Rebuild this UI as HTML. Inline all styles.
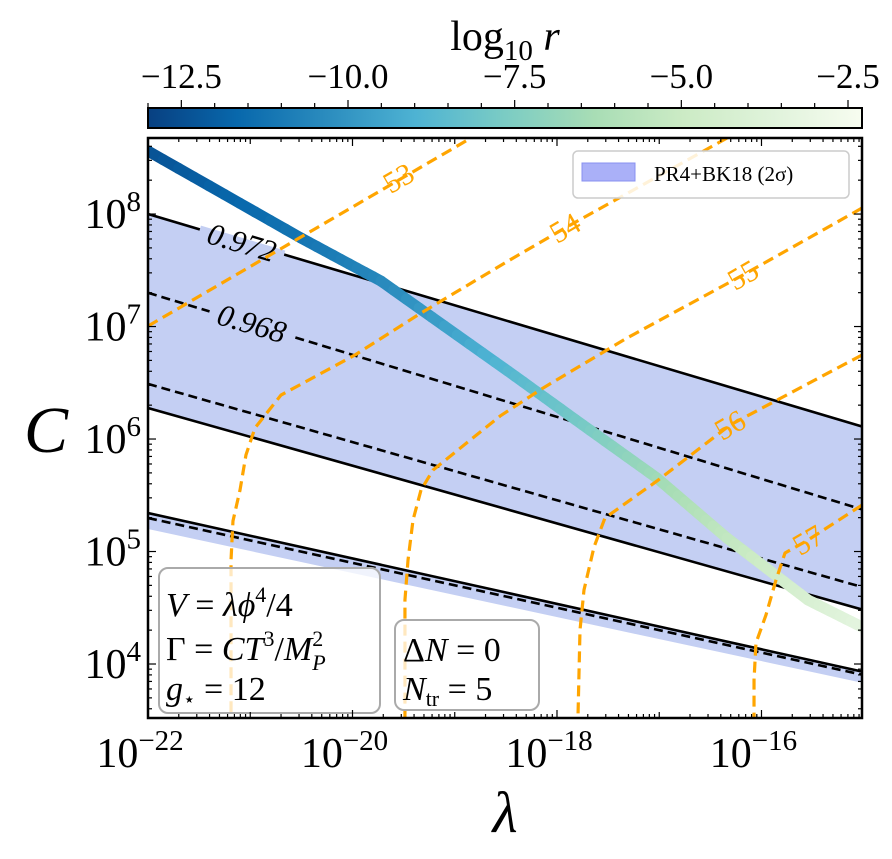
<!DOCTYPE html>
<html><head><meta charset="utf-8">
<style>
html,body{margin:0;padding:0;background:#fff;}
svg{display:block;font-family:"Liberation Serif","DejaVu Serif",serif;}
</style></head>
<body>
<svg id="chart" width="892" height="859" viewBox="0 0 892 859">
  <defs>
    <linearGradient id="cbgrad" x1="0" x2="1" y1="0" y2="0">
      <stop offset="0" stop-color="#084081"/><stop offset="0.125" stop-color="#0868ac"/>
      <stop offset="0.25" stop-color="#2b8cbe"/><stop offset="0.375" stop-color="#4eb3d3"/>
      <stop offset="0.5" stop-color="#7bccc4"/><stop offset="0.625" stop-color="#a8ddb5"/>
      <stop offset="0.75" stop-color="#ccebc5"/><stop offset="0.875" stop-color="#e0f3db"/>
      <stop offset="1" stop-color="#f7fcf0"/>
    </linearGradient>
    <clipPath id="plotclip"><rect x="148" y="138" width="714" height="580"/></clipPath>
  </defs>
  <g id="plot" clip-path="url(#plotclip)"></g>
  <g id="axes"></g>
</svg>
<script>
// ---- data (log10 units) ----
const lineX = [-22, -15];
const solidA = [8.0, 6.107];
const dashedA = [7.30, 5.37];
const dashedB = [6.49, 4.68];
const solidB = [6.276, 4.48];
const solidC = [5.342, 3.929];
const dashedC = [5.298, 3.902];
const fillLowC = [5.20, 3.83];

const rX = [-22, -20.504, -19.721, -18.479, -17.746, -17.022, -16.337, -15.545, -15.017];
const rY = [8.56, 7.787, 7.404, 6.604, 6.124, 5.653, 5.12, 4.569, 4.329];
const rVal = [-12.4, -11.2, -10.5, -8.8, -7.8, -6.6, -5.4, -4.2, -3.4];

const n53X = [-22, -18.841];
const n53Y = [7.004, 8.676];
const n54X = [-16.337, -17.922, -18.479, -19.330, -19.976, -20.699, -20.954, -21.042, -21.100, -21.169, -21.188, -21.188];
const n54Y = [8.676, 7.876, 7.582, 7.12, 6.747, 6.391, 6.098, 5.858, 5.547, 5.271, 4.924, 3.52];
const n55X = [-15.017, -16.181, -17.315, -18.137, -18.557, -19.213, -19.330, -19.408, -19.457, -19.487, -19.487];
const n55Y = [8.053, 7.458, 6.898, 6.453, 6.204, 5.724, 5.547, 5.28, 4.924, 4.569, 3.52];
const n56X = [-15.017, -16.308, -17.022, -17.531, -17.638, -17.736, -17.775, -17.795];
const n56Y = [6.747, 6.124, 5.627, 5.298, 5.04, 4.658, 4.302, 3.52];
const n57X = [-15.017, -15.545, -15.770, -15.858, -15.956, -16.054, -16.073, -16.073];
const n57Y = [5.413, 5.102, 4.987, 4.747, 4.436, 4.187, 3.858, 3.52];
const nLabels = ["53", "54", "55", "56", "57"];
const nLabelX = [-19.55, -17.922, -16.181, -16.308, -15.545];
const nLabelY = [8.32, 7.876, 7.458, 6.124, 5.102];

const xTickVals = [-22, -20, -18, -16];
const xTickLabels = ["−22", "−20", "−18", "−16"];
const yTickVals = [4, 5, 6, 7, 8];
const yTickLabels = ["4", "5", "6", "7", "8"];
const cbTickVals = [-12.5, -10, -7.5, -5, -2.5];
const cbTickLabels = ["−12.5", "−10.0", "−7.5", "−5.0", "−2.5"];

// ---- axes ----
const PX0 = 148, PX1 = 862, PY0 = 138, PY1 = 718;
const XMIN = -22, XMAX = -15.017, YMIN = 3.52, YMAX = 8.676;
const CB0 = -13.0, CB1 = -2.29;
function sx(v){ return PX0 + (v - XMIN) / (XMAX - XMIN) * (PX1 - PX0); }
function sy(v){ return PY1 - (v - YMIN) / (YMAX - YMIN) * (PY1 - PY0); }
function cbx(v){ return PX0 + (v - CB0) / (CB1 - CB0) * (PX1 - PX0); }

const NS = 'http://www.w3.org/2000/svg';
const plot = document.getElementById('plot');
const axes = document.getElementById('axes');
function mk(tag, attrs, parent){
  const e = document.createElementNS(NS, tag);
  for (const k in attrs) e.setAttribute(k, attrs[k]);
  parent.appendChild(e);
  return e;
}

const stops = [[0,[8,64,129]],[0.125,[8,104,172]],[0.25,[43,140,190]],[0.375,[78,179,211]],[0.5,[123,204,196]],[0.625,[168,221,181]],[0.75,[204,235,197]],[0.875,[224,243,219]],[1,[247,252,240]]];
function cmap(v){
  let t = Math.max(0, Math.min(1, (v - CB0) / (CB1 - CB0)));
  for (let i = 0; i < stops.length - 1; i++){
    if (t <= stops[i+1][0]){
      const f = (t - stops[i][0]) / (stops[i+1][0] - stops[i][0]);
      const c = stops[i][1].map((a, j) => Math.round(a + f * (stops[i+1][1][j] - a)));
      return `rgb(${c[0]},${c[1]},${c[2]})`;
    }
  }
  return 'rgb(247,252,240)';
}

function bandPath(top, bot){
  return `M${sx(lineX[0])},${sy(top[0])} L${sx(lineX[1])},${sy(top[1])} L${sx(lineX[1])},${sy(bot[1])} L${sx(lineX[0])},${sy(bot[0])} Z`;
}
const f1 = mk('path', {d: bandPath(solidA, solidB), fill: '#c4cff3'}, plot);


const f2 = mk('path', {d: bandPath(solidC, fillLowC), fill: '#c4cff3'}, plot);



function nsLine(vals, dashed, name){
  const l = mk('line', {x1: sx(lineX[0]), y1: sy(vals[0]), x2: sx(lineX[1]), y2: sy(vals[1]), stroke: '#000', 'stroke-width': 2.6, 'stroke-dasharray': dashed ? '9,5' : 'none'}, plot);
  
  
}
nsLine(solidA, false, 'ns-0972-upper');
nsLine(dashedA, true, 'ns-0968-upper');
nsLine(dashedB, true, 'ns-0968-lower');
nsLine(solidB, false, 'ns-0972-lower');
nsLine(solidC, false, 'ns-0972-bottom');
nsLine(dashedC, true, 'ns-0968-bottom');

function nsLabel(txt, px, py, ang, name){
  const bg = mk('rect', {x: px - 44, y: py - 4, width: 88, height: 8, fill: '#c4cff3', transform: `rotate(${ang} ${px} ${py})`}, plot);
  
  
  const t = mk('text', {x: px, y: py + 11, 'font-size': 31, 'font-style': 'italic', 'text-anchor': 'middle', fill: '#000', transform: `rotate(${ang} ${px} ${py})`}, plot);
  t.textContent = txt;
  
  
}
nsLabel('0.972', 242, 242, 16.5, 'ns-label-0972');
nsLabel('0.968', 252, 323, 16.5, 'ns-label-0968');

// r curve
for (let i = 0; i < rX.length - 1; i++){
  const sub = 10;
  for (let k = 0; k < sub; k++){
    const a = k / sub, b = (k + 1) / sub;
    const xa = rX[i] + a * (rX[i+1] - rX[i]), ya = rY[i] + a * (rY[i+1] - rY[i]);
    const xb = rX[i] + b * (rX[i+1] - rX[i]), yb = rY[i] + b * (rY[i+1] - rY[i]);
    const v = rVal[i] + (a + b) / 2 * (rVal[i+1] - rVal[i]);
    const seg = mk('line', {x1: sx(xa), y1: sy(ya), x2: sx(xb), y2: sy(yb), stroke: cmap(v), 'stroke-width': 11, 'stroke-linecap': 'round'}, plot);
    
    
  }
}

// N contours
const nX = [n53X, n54X, n55X, n56X, n57X];
const nY = [n53Y, n54Y, n55Y, n56Y, n57Y];
for (let j = 0; j < nX.length; j++){
  let d = '';
  for (let i = 0; i < nX[j].length; i++) d += (i ? 'L' : 'M') + sx(nX[j][i]) + ',' + sy(nY[j][i]) + ' ';
  const p = mk('path', {d: d, fill: 'none', stroke: '#ffa500', 'stroke-width': 3.2, 'stroke-dasharray': '11,6', 'stroke-linejoin': 'round'}, plot);
  
  
}
for (let j = 0; j < nLabels.length; j++){
  const px = sx(nLabelX[j]), py = sy(nLabelY[j]);
  const t = mk('text', {x: px, y: py + 10, 'font-size': 30, fill: '#ffa500', 'text-anchor': 'middle', transform: `rotate(-30 ${px} ${py})`}, plot);
  t.textContent = nLabels[j];
  
  
}

// legend
const lg = mk('g', {}, plot);


mk('rect', {x: 573, y: 151, width: 276, height: 47, rx: 5, fill: 'rgba(255,255,255,0.85)', stroke: '#ccc', 'stroke-width': 1.5}, lg);
const lp = mk('rect', {x: 582, y: 163, width: 53, height: 18, fill: '#aab0f8', stroke: '#8890f0', 'stroke-width': 1}, lg);


const lt = mk('text', {x: 654, y: 181, 'font-size': 21, fill: '#000'}, lg);
lt.textContent = 'PR4+BK18 (2σ)';



// info boxes
const b1 = mk('g', {}, plot);


mk('rect', {x: 159, y: 568, width: 221, height: 145, rx: 9, fill: 'rgba(255,255,255,0.75)', stroke: '#aaa', 'stroke-width': 2}, b1);
const t1 = mk('text', {x: 166, y: 616, 'font-size': 34}, b1);
t1.innerHTML = '<tspan font-style="italic">V</tspan> = <tspan font-style="italic">λϕ</tspan><tspan font-size="22" dy="-14">4</tspan><tspan dy="14">/4</tspan>';
const t2 = mk('text', {x: 166, y: 660, 'font-size': 34}, b1);
t2.innerHTML = 'Γ = <tspan font-style="italic">CT</tspan><tspan font-size="22" dy="-14">3</tspan><tspan dy="14">/</tspan><tspan font-style="italic">M</tspan><tspan font-size="22" dy="-14">2</tspan><tspan font-size="22" font-style="italic" dx="-11" dy="24">P</tspan>';
const t3 = mk('text', {x: 166, y: 700, 'font-size': 34}, b1);
t3.innerHTML = '<tspan font-style="italic">g</tspan><tspan font-size="20" dy="6">⋆</tspan><tspan dy="-6"> = 12</tspan>';

const b2 = mk('g', {}, plot);


mk('rect', {x: 395, y: 620, width: 144, height: 90, rx: 9, fill: 'rgba(255,255,255,0.75)', stroke: '#aaa', 'stroke-width': 2}, b2);
const t4 = mk('text', {x: 403, y: 661, 'font-size': 34}, b2);
t4.innerHTML = 'Δ<tspan font-style="italic">N</tspan> = 0';
const t5 = mk('text', {x: 403, y: 700, 'font-size': 34}, b2);
t5.innerHTML = '<tspan font-style="italic">N</tspan><tspan font-size="22" dy="6">tr</tspan><tspan dy="-6"> = 5</tspan>';

// frame + ticks
mk('rect', {x: PX0, y: PY0, width: PX1 - PX0, height: PY1 - PY0, fill: 'none', stroke: '#000', 'stroke-width': 2.5}, axes);
for (let d = -22; d <= -16; d++){
  for (let k = 1; k <= 9; k++){
    const v = d + Math.log10(k);
    if (v > XMAX) continue;
    const major = (k === 1 && (d % 2 === 0));
    const len = major ? 8 : (k === 1 ? 6 : 4);
    const x = sx(v);
    mk('line', {x1: x, y1: PY1, x2: x, y2: PY1 - len, stroke: '#000', 'stroke-width': 1.2}, axes);
    mk('line', {x1: x, y1: PY0, x2: x, y2: PY0 + len, stroke: '#000', 'stroke-width': 1.2}, axes);
  }
}
for (let d = 3; d <= 8; d++){
  for (let k = 1; k <= 9; k++){
    const v = d + Math.log10(k);
    if (v < YMIN || v > YMAX) continue;
    const len = k === 1 ? 8 : 4;
    const y = sy(v);
    mk('line', {x1: PX0, y1: y, x2: PX0 + len, y2: y, stroke: '#000', 'stroke-width': 1.2}, axes);
    mk('line', {x1: PX1, y1: y, x2: PX1 - len, y2: y, stroke: '#000', 'stroke-width': 1.2}, axes);
  }
}
for (let i = 0; i < xTickVals.length; i++){
  const t = mk('text', {x: sx(xTickVals[i]) - 8, y: 767, 'font-size': 42, 'text-anchor': 'middle'}, axes);
  t.innerHTML = '10<tspan font-size="29" dy="-17">' + xTickLabels[i] + '</tspan>';
  
  
}
for (let i = 0; i < yTickVals.length; i++){
  const t = mk('text', {x: 141, y: sy(yTickVals[i]) + 14, 'font-size': 42, 'text-anchor': 'end'}, axes);
  t.innerHTML = '10<tspan font-size="29" dy="-17">' + yTickLabels[i] + '</tspan>';
  
  
}
const xl = mk('text', {x: 505, y: 832, 'font-size': 58, 'font-style': 'italic', 'text-anchor': 'middle'}, axes);
xl.textContent = 'λ';


const yl = mk('text', {x: 46, y: 452, 'font-size': 66, 'font-style': 'italic', 'text-anchor': 'middle'}, axes);
yl.textContent = 'C';



// colorbar
const cb = mk('rect', {x: PX0, y: 108, width: PX1 - PX0, height: 20, fill: 'url(#cbgrad)', stroke: '#000', 'stroke-width': 2}, axes);


for (let v = -13; v <= -2.3; v += 0.5){
  const major = cbTickVals.indexOf(v) >= 0;
  const x = cbx(v);
  if (x < PX0 || x > PX1) continue;
  mk('line', {x1: x, y1: 107, x2: x, y2: major ? 100 : 103, stroke: '#000', 'stroke-width': 1.2}, axes);
}
for (let i = 0; i < cbTickVals.length; i++){
  const t = mk('text', {x: cbx(cbTickVals[i]), y: 88, 'font-size': 35, 'text-anchor': 'middle'}, axes);
  t.textContent = cbTickLabels[i];
  
  
}
const cbl = mk('text', {x: 505, y: 50, 'font-size': 42, 'text-anchor': 'middle'}, axes);
cbl.innerHTML = 'log<tspan font-size="29" dy="10">10</tspan><tspan dy="-10" font-style="italic"> r</tspan>';


</script>
</body></html>
